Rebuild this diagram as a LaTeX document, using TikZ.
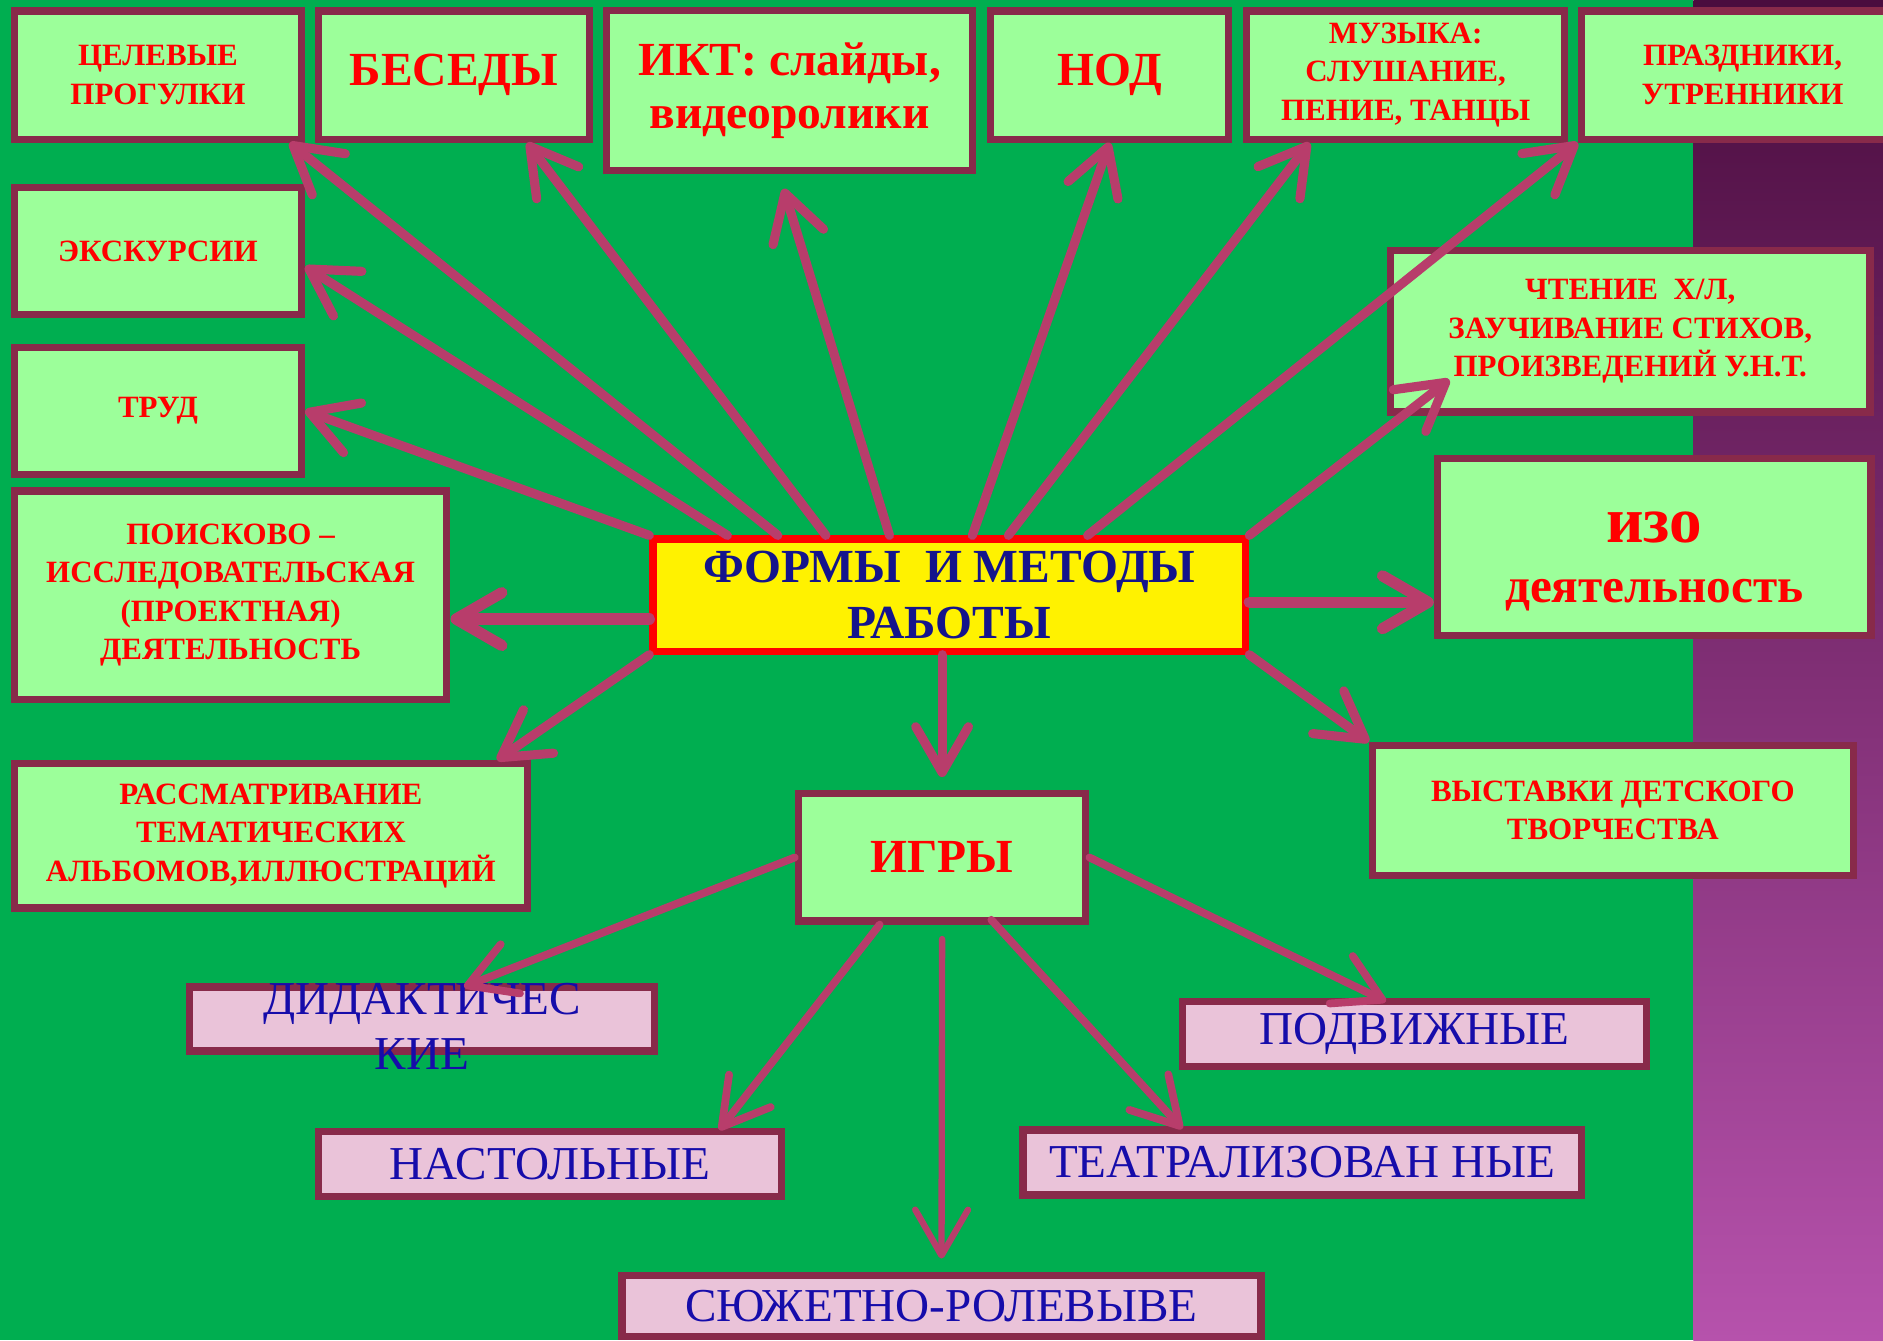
\documentclass[tikz,border=0pt]{standalone}
\usepackage{fontspec}
\setmainfont{Liberation Serif}
\usetikzlibrary{arrows.meta}
\definecolor{bggreen}{RGB}{0,174,80}
\definecolor{boxgreen}{RGB}{156,255,154}
\definecolor{boxpink}{RGB}{234,195,217}
\definecolor{boxframe}{RGB}{136,42,74}
\definecolor{arrowpink}{RGB}{184,61,107}
\definecolor{textblue}{RGB}{22,12,170}
\definecolor{titleblue}{RGB}{20,20,140}
\definecolor{purpletop}{RGB}{74,12,62}
\definecolor{purplemid}{RGB}{112,36,100}
\definecolor{purplebot}{RGB}{182,82,172}
\begin{document}
\begin{tikzpicture}[x = 0.012cm, y = -0.012cm,
  greenbox/.style = {draw = boxframe, fill = boxgreen, line width = 0.072cm, text = red,
                     align = center, inner sep = 1pt, font = \fontsize{8.8}{10.9}\selectfont\bfseries},
  bigbox/.style = {greenbox, font = \fontsize{13.5}{15}\selectfont\bfseries},
  gamebox/.style = {draw = boxframe, fill = boxpink, line width = 0.072cm, text = textblue,
                    inner sep = 1pt, font = \fontsize{13.4}{15.7}\selectfont},
  arr/.style = {draw = arrowpink, line width = 2.6pt, line cap = round,
                -{Straight Barb[length = 13pt, width = 15pt, round]}},
  gamearr/.style = {arr, line width = 2.2pt}]
\useasboundingbox (0, 0) rectangle (1568, 1116);
\clip (0, 0) rectangle (1568, 1116);
\fill[bggreen] (0, 0) rectangle (1410, 1116);
\shade[top color = purpletop, middle color = purplemid, bottom color = purplebot] (1410, 0) rectangle (1568, 1116);
\draw (131.5, 62.5) node[greenbox, minimum width = 2.87cm, minimum height = 1.28cm] (cel) {ЦЕЛЕВЫЕ\\ПРОГУЛКИ};
\draw (378, 62.5) node[bigbox, minimum width = 2.71cm, minimum height = 1.28cm] (bes) {БЕСЕДЫ};
\draw (657.5, 75.5) node[bigbox, minimum width = 3.66cm, minimum height = 1.60cm] (ikt) {ИКТ: слайды,\\видеоролики};
\draw (924, 62.5) node[bigbox, minimum width = 2.38cm, minimum height = 1.28cm] (nod) {НОД};
\draw (1170.5, 62.5) node[greenbox, minimum width = 3.18cm, minimum height = 1.28cm] (muz) {МУЗЫКА:\\СЛУШАНИЕ,\\ПЕНИЕ, ТАНЦЫ};
\draw (1451, 62.5) node[greenbox, minimum width = 3.22cm, minimum height = 1.28cm] (praz) {ПРАЗДНИКИ,\\УТРЕННИКИ};
\draw (131.5, 209) node[greenbox, minimum width = 2.87cm, minimum height = 1.27cm] (eks) {ЭКСКУРСИИ};
\draw (131.5, 342) node[greenbox, minimum width = 2.87cm, minimum height = 1.27cm] (trud) {ТРУД};
\draw (192, 495.5) node[greenbox, minimum width = 4.32cm, minimum height = 2.08cm] (poisk) {ПОИСКОВО –\\ИССЛЕДОВАТЕЛЬСКАЯ\\(ПРОЕКТНАЯ)\\ДЕЯТЕЛЬНОСТЬ};
\draw (225.5, 696) node[greenbox, minimum width = 5.12cm, minimum height = 1.44cm] (rassm) {РАССМАТРИВАНИЕ\\ТЕМАТИЧЕСКИХ\\АЛЬБОМОВ,ИЛЛЮСТРАЦИЙ};
\draw (790.5, 495.5) node[draw = red, fill = yellow, line width = 0.072cm, minimum width = 5.92cm,
       minimum height = 1.12cm, text = titleblue, align = center, inner sep = 1pt,
       font = \fontsize{13.5}{16}\selectfont\bfseries] (forms) {ФОРМЫ~ И МЕТОДЫ\\РАБОТЫ};
\draw (1377.5, 455.5) node[greenbox, minimum width = 4.33cm, minimum height = 1.76cm,
       font = \fontsize{14}{17}\selectfont\bfseries] (izo) {\rule{0pt}{16.7pt}{\fontsize{18.5}{17}\selectfont изо}\\деятельность};
\draw (1357.5, 276) node[greenbox, minimum width = 4.79cm, minimum height = 1.61cm] (chten) {ЧТЕНИЕ~ Х/Л,\\ЗАУЧИВАНИЕ СТИХОВ,\\ПРОИЗВЕДЕНИЙ У.Н.Т.};
\draw (1343, 675) node[greenbox, minimum width = 4.80cm, minimum height = 1.30cm] (vyst) {ВЫСТАВКИ ДЕТСКОГО\\ТВОРЧЕСТВА};
\draw (784.5, 714) node[bigbox, minimum width = 2.87cm, minimum height = 1.27cm] (igry) {ИГРЫ};
\draw (351.5, 848.5) node[gamebox, minimum width = 4.64cm, minimum height = 0.64cm] (did) {\smash{\raisebox{-6.9pt}{\begin{tabular}{@{}c@{}}ДИДАКТИЧЕС\\КИЕ\end{tabular}}}};
\draw (458, 969) node[gamebox, minimum width = 4.63cm, minimum height = 0.65cm] (nast) {НАСТОЛЬНЫЕ};
\draw (1178, 861) node[gamebox, minimum width = 4.63cm, minimum height = 0.65cm] (podv) {ПОДВИЖНЫЕ};
\draw (1084.5, 968) node[gamebox, minimum width = 5.58cm, minimum height = 0.65cm] (teatr) {ТЕАТРАЛИЗОВАН НЫЕ};
\draw (784, 1087.5) node[gamebox, minimum width = 6.38cm, minimum height = 0.61cm] (syuzh) {СЮЖЕТНО-РОЛЕВЫВЕ};
\draw [arr] (forms.north west) to (trud.east);
\draw [arr] ([shift = {(65, 0)}]forms.north west) to ([shift = {(0, 13)}]eks.east);
\draw [arr] ([shift = {(107, 0)}]forms.north west) to ([shift = {(-13, 0)}]cel.south east);
\draw [arr] ([shift = {(147, 0)}]forms.north west) to ([shift = {(61, 0)}]bes.south);
\draw [arr] ([shift = {(200, 0)}]forms.north west) to ([shift = {(-5, 12)}]ikt.south);
\draw [arr] ([shift = {(269, 0)}]forms.north west) to (nod.south);
\draw [arr] ([shift = {(299, 0)}]forms.north west) to ([shift = {(-80, 0)}]muz.south);
\draw [arr] ([shift = {(365, 0)}]forms.north west) to (praz.south west);
\draw [arr] (forms.north east) to ([shift = {(52, -30)}]chten.south west);
\draw [arr, line width = 3.2pt] ([shift = {(0, 6)}]forms.east) to ([shift = {(0, 46)}]izo.west);
\draw [arr] (forms.south east) to (vyst.north west);
\draw [arr] ([shift = {(-6, 0)}]forms.south) to ([shift = {(0, -11)}]igry.north);
\draw [arr, line width = 3.2pt] ([shift = {(0, 20)}]forms.west) to ([shift = {(0, 20)}]poisk.east);
\draw [arr] (forms.south west) to ([shift = {(-28, 0)}]rassm.north east);
\draw [gamearr] (igry.west) to ([shift = {(35, 3)}]did.north);
\draw [gamearr] ([shift = {(-52, 0)}]igry.south) to ([shift = {(141, 2)}]nast.north);
\draw [gamearr, line width = 1.8pt] ([shift = {(0, 12)}]igry.south) to ([shift = {(0, -11)}]syuzh.north);
\draw [gamearr] ([shift = {(41, -4)}]igry.south) to ([shift = {(-100, 2)}]teatr.north);
\draw [gamearr] (igry.east) to ([shift = {(-24, 3)}]podv.north);
\end{tikzpicture}
\end{document}
